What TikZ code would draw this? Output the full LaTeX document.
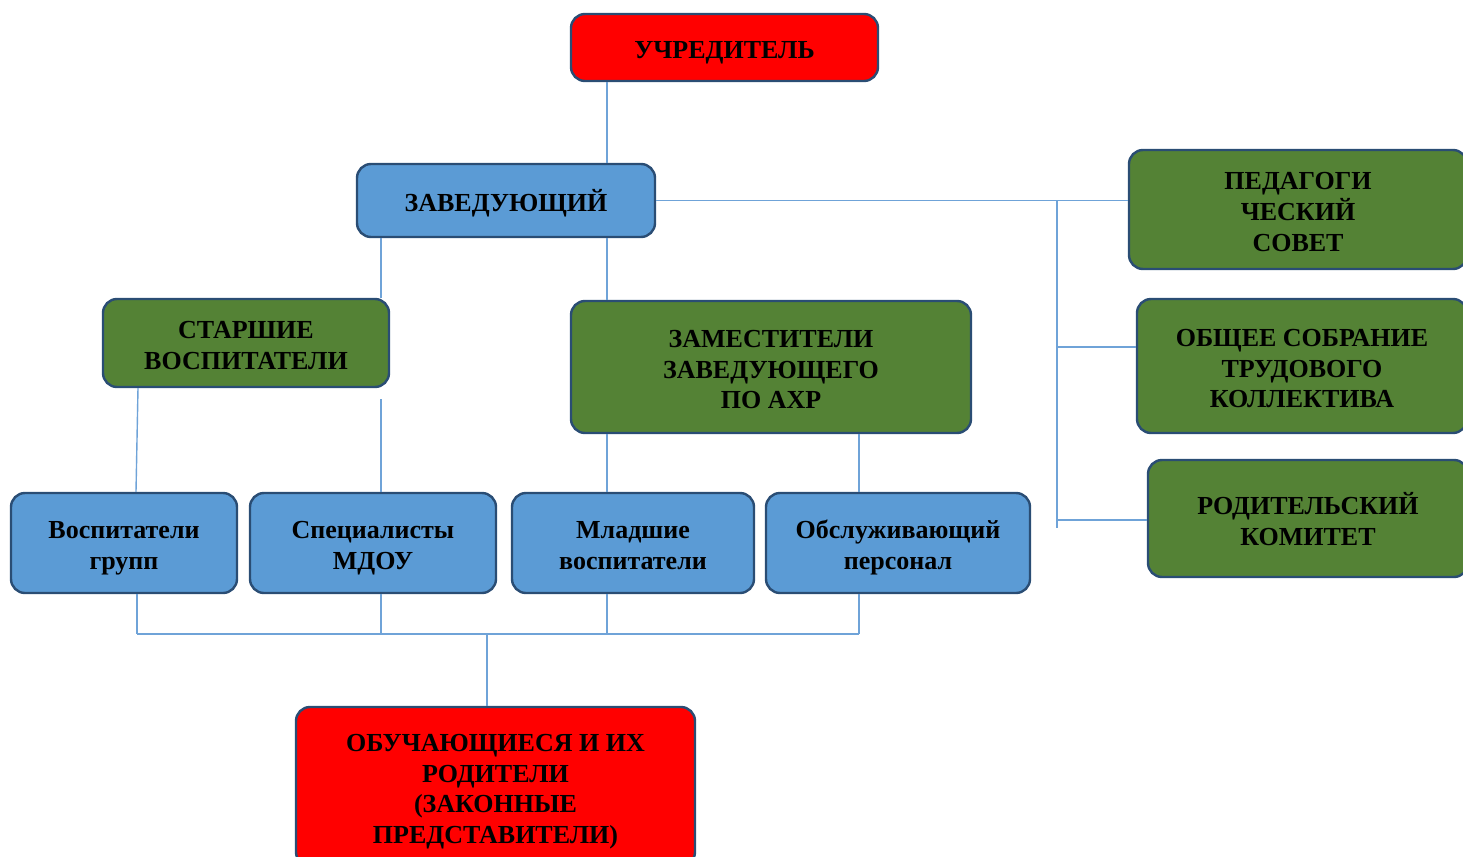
\documentclass[tikz,border=0pt]{standalone}
\usepackage{fontspec}
\setmainfont{Liberation Serif}
\definecolor{bred}{HTML}{FF0000}
\definecolor{bblue}{HTML}{5B9BD5}
\definecolor{bgreen}{HTML}{548235}
\definecolor{bedge}{HTML}{2A4D74}
\definecolor{lineblue}{HTML}{6FA3D8}
\newcommand{\boxtext}[1]{\raisebox{-5pt}[\height][\depth]{\begin{tabular}{@{}c@{}}#1\end{tabular}}}
\tikzset{
  box/.style={draw=bedge, line width=2.4pt, rounded corners=14pt,
    inner sep=0pt, font=\fontsize{26}{30.5}\selectfont\bfseries, text=black},
  redbox/.style={box, fill=bred},
  bluebox/.style={box, fill=bblue},
  greenbox/.style={box, fill=bgreen},
  link/.style={draw=lineblue, line width=1.4pt}
}
\begin{document}
\begin{tikzpicture}[x=1pt,y=-1pt]
\useasboundingbox (0,0) rectangle (1463,856);
\clip (0,0) rectangle (1463,856);
% nodes
\node[redbox, minimum width=307pt, minimum height=67pt] (uch) at (724.5,47.5) {\boxtext{УЧРЕДИТЕЛЬ}};
\node[bluebox, minimum width=298pt, minimum height=73pt] (zav) at (506,200.5) {\boxtext{ЗАВЕДУЮЩИЙ}};
\node[greenbox, minimum width=286pt, minimum height=88pt] (st) at (246,343) {\boxtext{СТАРШИЕ\\ВОСПИТАТЕЛИ}};
\node[greenbox, minimum width=400pt, minimum height=132pt] (zam) at (771,367) {\boxtext{ЗАМЕСТИТЕЛИ\\ЗАВЕДУЮЩЕГО\\ПО АХР}};
\node[greenbox, minimum width=338pt, minimum height=119pt] (ped) at (1298,209.5) {\boxtext{ПЕДАГОГИ\\ЧЕСКИЙ\\СОВЕТ}};
\node[greenbox, minimum width=330pt, minimum height=134pt] (obs) at (1302,366) {\boxtext{ОБЩЕЕ СОБРАНИЕ\\ТРУДОВОГО\\КОЛЛЕКТИВА}};
\node[greenbox, minimum width=320pt, minimum height=117pt] (rod) at (1308,518.5) {\boxtext{РОДИТЕЛЬСКИЙ\\КОМИТЕТ}};
\node[bluebox, minimum width=226pt, minimum height=100pt] (vg) at (124,543) {\boxtext{Воспитатели\\групп}};
\node[bluebox, minimum width=246pt, minimum height=100pt] (sp) at (373,543) {\boxtext{Специалисты\\МДОУ}};
\node[bluebox, minimum width=242pt, minimum height=100pt] (ml) at (633,543) {\boxtext{Младшие\\воспитатели}};
\node[bluebox, minimum width=264pt, minimum height=100pt] (ob) at (898,543) {\boxtext{Обслуживающий\\персонал}};
\node[redbox, minimum width=399pt, minimum height=159pt] (uc) at (495.5,786.5) {\boxtext{ОБУЧАЮЩИЕСЯ И ИХ\\РОДИТЕЛИ\\(ЗАКОННЫЕ\\ПРЕДСТАВИТЕЛИ)}};
% helper coordinates
\coordinate (xa) at (607,0);
\coordinate (xb) at (381,0);
\coordinate (xc) at (137,0);
\coordinate (xd) at (859,0);
\coordinate (s2top) at (381,399);
\coordinate (b1) at (137,634);
\coordinate (b2) at (381,634);
\coordinate (b3) at (607,634);
\coordinate (b4) at (859,634);
\coordinate (bm) at (487,634);
\coordinate (r0) at (1057,200);
\coordinate (r2) at (1057,347);
\coordinate (r3) at (1057,520);
\coordinate (rend) at (1057,528);
% connectors
\draw[link] (uch.south -| xa) -- (zav.north -| xa);
\draw[link] (zav.south -| xa) -- (zam.north -| xa);
\draw[link] (zav.south -| xb) -- (st.north -| xb);
\draw[link] ([xshift=-108pt]st.south) -- ([xshift=12pt]vg.north);
\draw[link] (s2top) -- (sp.north -| s2top);
\draw[link] (zam.south -| xa) -- (ml.north -| xa);
\draw[link] (zam.south -| xd) -- (ob.north -| xd);
\draw[link] (vg.south -| xc) -- (b1);
\draw[link] (sp.south -| xb) -- (b2);
\draw[link] (ml.south -| xa) -- (b3);
\draw[link] (ob.south -| xd) -- (b4);
\draw[link] (b1) -- (b4);
\draw[link] (bm) -- (uc.north -| bm);
\draw[link] (zav.east) -- (ped.west |- zav.east);
\draw[link] (r0) -- (rend);
\draw[link] (r2) -- (obs.west |- r2);
\draw[link] (r3) -- (rod.west |- r3);
\end{tikzpicture}
\end{document}
